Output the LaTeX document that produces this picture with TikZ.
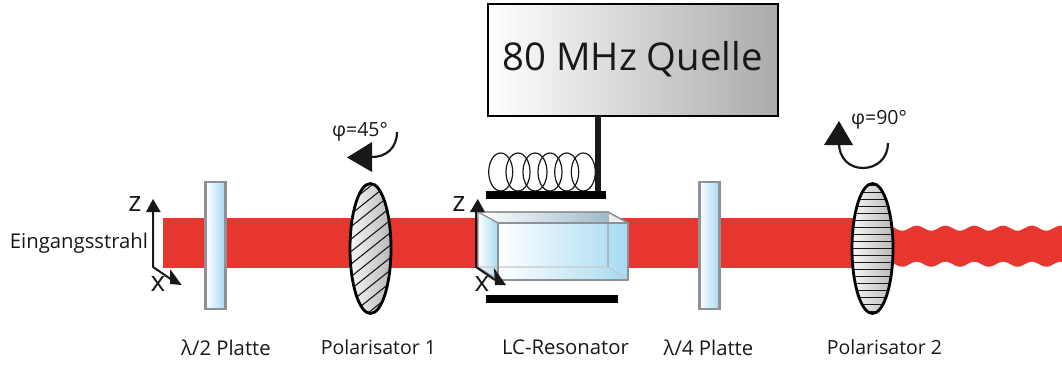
\documentclass[tikz,border=0pt]{standalone}
\usepackage{fontspec}
\setmainfont{Open Sans}
\usetikzlibrary{shapes.geometric}
\definecolor{beam}{HTML}{E7352F}
\definecolor{glass}{HTML}{A6DAF2}
\definecolor{ink}{HTML}{1A1718}
\definecolor{rim}{HTML}{8E9296}
\tikzset{
  lbl/.style={inner sep=0pt,font=\fontsize{19.5}{22}\selectfont,text=ink},
  lblw/.style={inner sep=0pt,font=\fontsize{20.3}{22}\selectfont,text=ink},
  axislbl/.style={inner sep=0pt,font=\fontsize{28}{30}\selectfont,text=ink},
  axisline/.style={draw=ink,line width=2pt},
  tip/.style={fill=ink,draw=none},
  plate/.style={draw=rim,line width=2.6pt,left color=white,right color=glass,minimum width=20pt,minimum height=127pt,inner sep=0pt},
  bar/.style={fill=black,inner sep=0pt},
  polar/.style={ellipse,draw=black,line width=2.8pt,left color=black!3,right color=black!28,minimum width=41pt,minimum height=130pt,inner sep=0pt},
  coil/.style={ellipse,draw=ink,line width=1.2pt,minimum width=24pt,minimum height=38pt,inner sep=0pt},
  face/.style={draw=rim,line width=1.2pt,line join=round},
  turn/.style={draw=ink,line width=2.2pt}
}
\begin{document}
\begin{tikzpicture}[x=1pt,y=-1pt]
\useasboundingbox (0,0) rectangle (1062,367);
% beam
\fill[beam] (163,218) rectangle (885,268);
\fill[beam] plot[domain=885:1062,samples=120,smooth] (\x,{228.2-2.5*cos((\x-916.7)/28.8*360)})
  -- plot[domain=1062:885,samples=120,smooth] (\x,{264.2-2.5*cos((\x-916.7)/28.8*360)}) -- cycle;
% source
\node[draw=black,line width=2pt,left color=white,right color=black!33,minimum width=290pt,minimum height=112pt,inner sep=0pt,
  font=\fontsize{38.3}{42}\selectfont,text=ink] (source) at (632.5,59.5) {80 MHz Quelle};
% top and bottom plates
\node[bar,minimum width=120pt,minimum height=8pt] (topbar) at (546,195) {};
\node[bar,minimum width=132pt,minimum height=8pt] (botbar) at (552,299) {};
\coordinate (stemtop) at (598,116);
\coordinate (stembot) at (598,191);
\draw[black!90,line width=5.4pt] (stemtop) -- (stembot);
% coil
\foreach \n/\cx in {a/500.7,b/518,c/535,d/550,e/566.7,f/583.3}
  \node[coil] (coil\n) at (\cx,172) {};
% resonator
\coordinate (b1) at (478,212); \coordinate (b2) at (608,212);
\coordinate (b3) at (608,267); \coordinate (b4) at (478,267);
\coordinate (f1) at (498,223); \coordinate (f2) at (628,223);
\coordinate (f3) at (628,280); \coordinate (f4) at (498,280);
\path[face,left color=white,right color=glass!75!black!85] (b1) -- (b2) -- (f2) -- (f1) -- cycle;
\path[face,fill=white,fill opacity=.8] (b2) -- (f2) -- (f3) -- (b3) -- cycle;
\path[left color=white,right color=glass,draw=none] (f1) -- (f2) -- (f3) -- (f4) -- cycle;
\path[left color=white,right color=glass,face] (b1) -- (f1) -- (f4) -- (b4) -- cycle;
\draw[face,draw=rim!50] (b4) -- (b3) -- (f3);
\draw[face,draw=rim!70] (b3) -- (b2);
\draw[face] (f1) -- (f2) -- (f3) -- (f4) -- cycle;
\draw[face] (b1) -- (b2) -- (f2);
% wave plates
\node[plate] (p1) at (215.5,245.5) {};
\node[plate] (p2) at (709.5,245.5) {};
% polarisers
\node[polar,path picture={
  \foreach \k in {-11,...,11}
    \draw[ink,line width=1.1pt] (-25,{\k*12.5+20}) -- (25,{\k*12.5-20});
}] (pol1) at (370.5,248.5) {};
\node[polar,path picture={
  \foreach \k in {-9,...,9}
    \draw[ink,line width=1.3pt] (-24,{\k*7}) -- (24,{\k*7});
}] (pol2) at (872.5,248.5) {};
% left axes
\coordinate (o1) at (153,267); \coordinate (z1) at (153,208); \coordinate (x1) at (172,280);
\draw[axisline] (z1) -- (o1) -- (x1);
\fill[tip] (153,199) -- (146,212) -- (160.7,212) -- cycle;
\fill[tip] (170,269) -- (170,284) -- (181.7,285) -- cycle;
\node[axislbl] (zl1) at (135,204) {z};
\node[axislbl] (xl1) at (158,284) {x};
% resonator axes
\coordinate (o2) at (476,267); \coordinate (z2) at (476,208); \coordinate (x2) at (495,280);
\draw[axisline] (z2) -- (o2) -- (x2);
\fill[tip] (477.7,199) -- (470,212) -- (485,212) -- cycle;
\fill[tip] (494,268) -- (495,285) -- (506,285) -- cycle;
\node[axislbl] (zl2) at (459,204) {z};
\node[axislbl] (xl2) at (482,284) {x};
% rotation arrows
\coordinate (r1a) at (397,132); \coordinate (r1b) at (372,157);
\draw[turn] (r1a) .. controls (397,148) and (386,157) .. (r1b);
\fill[tip] (347,157.5) -- (372,142) -- (372,172) -- cycle;
\coordinate (r2a) at (888,143); \coordinate (r2b) at (839,143);
\draw[turn] (r2a) .. controls (888,158) and (877,168) .. (863,168) .. controls (849,168) and (839,158) .. (r2b);
\fill[tip] (839,121) -- (824,145) -- (853,145) -- cycle;
% texts
\node[lbl] (phi1) at (360,132) {φ=45°};
\node[lbl] (phi2) at (879,120) {φ=90°};
\node[lblw] (inp) at (79,243.5) {Eingangsstrahl};
\node[lblw] (l1) at (226,347.5) {λ/2 Platte};
\node[lbl] (l2) at (378.5,347.5) {Polarisator 1};
\node[lblw] (l3) at (565.5,347.5) {LC-Resonator};
\node[lblw] (l4) at (708.5,347.5) {λ/4 Platte};
\node[lbl] (l5) at (884.5,347.5) {Polarisator 2};
\end{tikzpicture}
\end{document}
